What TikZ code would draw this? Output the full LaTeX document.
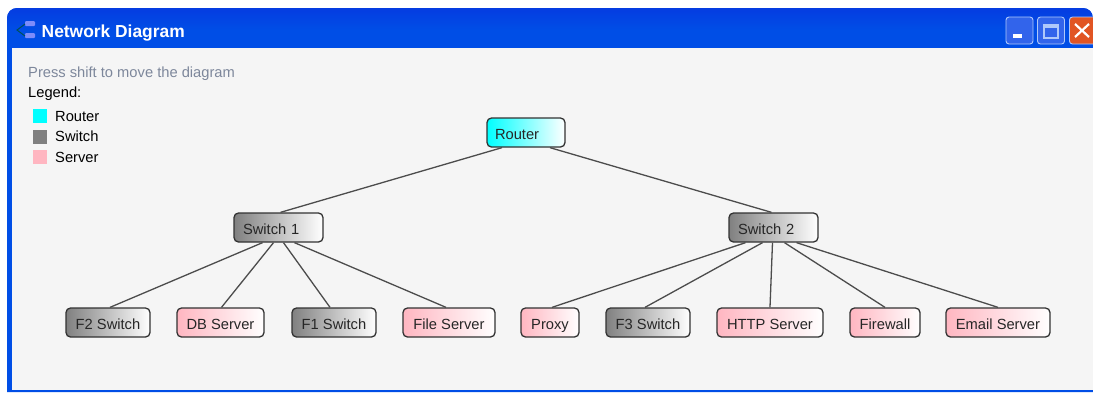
\documentclass[tikz,border=0pt]{standalone}
\usepackage{fontspec}
\setmainfont{Liberation Sans}
\definecolor{titleblue}{RGB}{0,78,230}
\definecolor{titletop}{RGB}{5,60,225}
\definecolor{paneback}{RGB}{245,245,245}
\definecolor{hintgrey}{RGB}{125,135,155}
\definecolor{boxline}{RGB}{50,50,50}
\definecolor{routercyan}{RGB}{0,255,255}
\definecolor{servpink}{RGB}{255,182,193}
\definecolor{switchgrey}{RGB}{128,128,128}
\definecolor{btnblue}{RGB}{50,100,235}
\definecolor{btnline}{RGB}{175,200,250}
\definecolor{btnred}{RGB}{225,85,35}
\definecolor{iconblue}{RGB}{125,140,250}
\definecolor{icongreen}{RGB}{0,80,90}
\tikzset{
	netbox/.style={draw=boxline, line width=1.3pt, rounded corners=4.5pt, minimum height=29pt, inner sep=0pt, text height=13.5pt, text depth=0pt, font=\fontsize{14.7}{16}\selectfont, text=black!85},
	routerbox/.style={netbox, left color=routercyan, right color=white},
	switchbox/.style={netbox, left color=switchgrey, right color=white},
	serverbox/.style={netbox, left color=servpink, right color=white},
	netline/.style={draw=black!70, line width=1.3pt},
	legendtext/.style={anchor=base west, inner sep=0pt, font=\fontsize{14.7}{16}\selectfont},
	legendkey/.style={minimum size=14pt, inner sep=0pt},
	winbutton/.style={draw=btnline, line width=0.9pt, rounded corners=3pt, minimum width=27pt, minimum height=27pt, inner sep=0pt}
}
\begin{document}
\begin{tikzpicture}[x=1pt, y=-1pt]
	\useasboundingbox (0,0) rectangle (1093,392);
	% window
	\fill[white] (0,0) rectangle (1093,392);
	\fill[titleblue] (7,392) -- (7,20) [rounded corners=10pt] -- (7,8) -- (1093,8) [sharp corners] -- (1093,392) -- cycle;
	\shade[top color=titletop, bottom color=titleblue, rounded corners=10pt] (7,30) -- (7,8) -- (1093,8) -- (1093,30) [sharp corners] -- cycle;
	\fill[paneback] (12,48) rectangle (1093,390);
	% title
	\node[anchor=base west, inner sep=0pt, text=white, font=\bfseries\fontsize{17.4}{19}\selectfont] (title) at (41.5,37.5) {Network Diagram};
	\fill[iconblue, rounded corners=1pt] (25,21) rectangle (35,26);
	\fill[iconblue, rounded corners=1pt] (25,33) rectangle (35,38);
	\draw[icongreen, line width=1pt] (25,24) -- (17,30) -- (25,36);
	% window buttons
	\node[winbutton, fill=btnblue] (minbtn) at (1019.5,30.5) {};
	\fill[white] (1013,34) rectangle (1022,38);
	\node[winbutton, fill=btnblue] (maxbtn) at (1051,30.5) {};
	\draw[btnline, line width=1.2pt] (1044,25) rectangle (1058,38);
	\fill[btnline] (1044,24) rectangle (1058,28);
	\node[winbutton, fill=btnred, anchor=west] (closebtn) at (1069,30.5) {};
	\draw[white, line width=2.2pt] (1075,24) -- (1089,37) (1089,24) -- (1075,37);
	% hint and legend
	\node[legendtext, text=hintgrey] (hint) at (28,77) {Press shift to move the diagram};
	\node[legendtext] (legend) at (28,97.5) {Legend:};
	\node[legendkey, fill=routercyan] (keyrouter) at (40,116) {};
	\node[legendkey, fill=switchgrey] (keyswitch) at (40,136.5) {};
	\node[legendkey, fill=servpink] (keyserver) at (40,157) {};
	\node[legendtext] (txtrouter) at (55,121) {Router};
	\node[legendtext] (txtswitch) at (55,141.5) {Switch};
	\node[legendtext] (txtserver) at (55,162) {Server};
	% nodes
	\node[routerbox, minimum width=78pt, text width=62pt] (router) at (526,132.5) {Router};
	\node[switchbox, minimum width=89pt, text width=71pt] (swone) at (278.5,227.5) {Switch 1};
	\node[switchbox, minimum width=89pt, text width=71pt] (swtwo) at (773.5,227.5) {Switch 2};
	\node[switchbox, minimum width=84pt] (ftwo) at (108,322.5) {F2 Switch};
	\node[serverbox, minimum width=87pt] (dbserv) at (220.5,322.5) {DB Server};
	\node[switchbox, minimum width=84pt] (fone) at (334,322.5) {F1 Switch};
	\node[serverbox, minimum width=92pt] (fileserv) at (449,322.5) {File Server};
	\node[serverbox, minimum width=58pt] (proxy) at (550,322.5) {Proxy};
	\node[switchbox, minimum width=84pt] (fthree) at (648,322.5) {F3 Switch};
	\node[serverbox, minimum width=106pt] (httpserv) at (770,322.5) {HTTP Server};
	\node[serverbox, minimum width=70pt] (firewall) at (885,322.5) {Firewall};
	\node[serverbox, minimum width=104pt] (emailserv) at (998,322.5) {Email Server};
	% connectors
	\draw[netline] ([xshift=-24pt]router.south) -- ([xshift=2pt]swone.north);
	\draw[netline] ([xshift=24pt]router.south) -- ([xshift=-2pt]swtwo.north);
	\draw[netline] ([xshift=-16pt]swone.south) -- ([xshift=2pt]ftwo.north);
	\draw[netline] ([xshift=-5pt]swone.south) -- ([xshift=1pt]dbserv.north);
	\draw[netline] ([xshift=5pt]swone.south) -- ([xshift=-4pt]fone.north);
	\draw[netline] ([xshift=16pt]swone.south) -- ([xshift=-3pt]fileserv.north);
	\draw[netline] ([xshift=-28pt]swtwo.south) -- ([xshift=2pt]proxy.north);
	\draw[netline] ([xshift=-11pt]swtwo.south) -- ([xshift=-3pt]fthree.north);
	\draw[netline] ([xshift=-1pt]swtwo.south) -- (httpserv.north);
	\draw[netline] ([xshift=11pt]swtwo.south) -- (firewall.north);
	\draw[netline] ([xshift=23pt]swtwo.south) -- (emailserv.north);
\end{tikzpicture}
\end{document}
